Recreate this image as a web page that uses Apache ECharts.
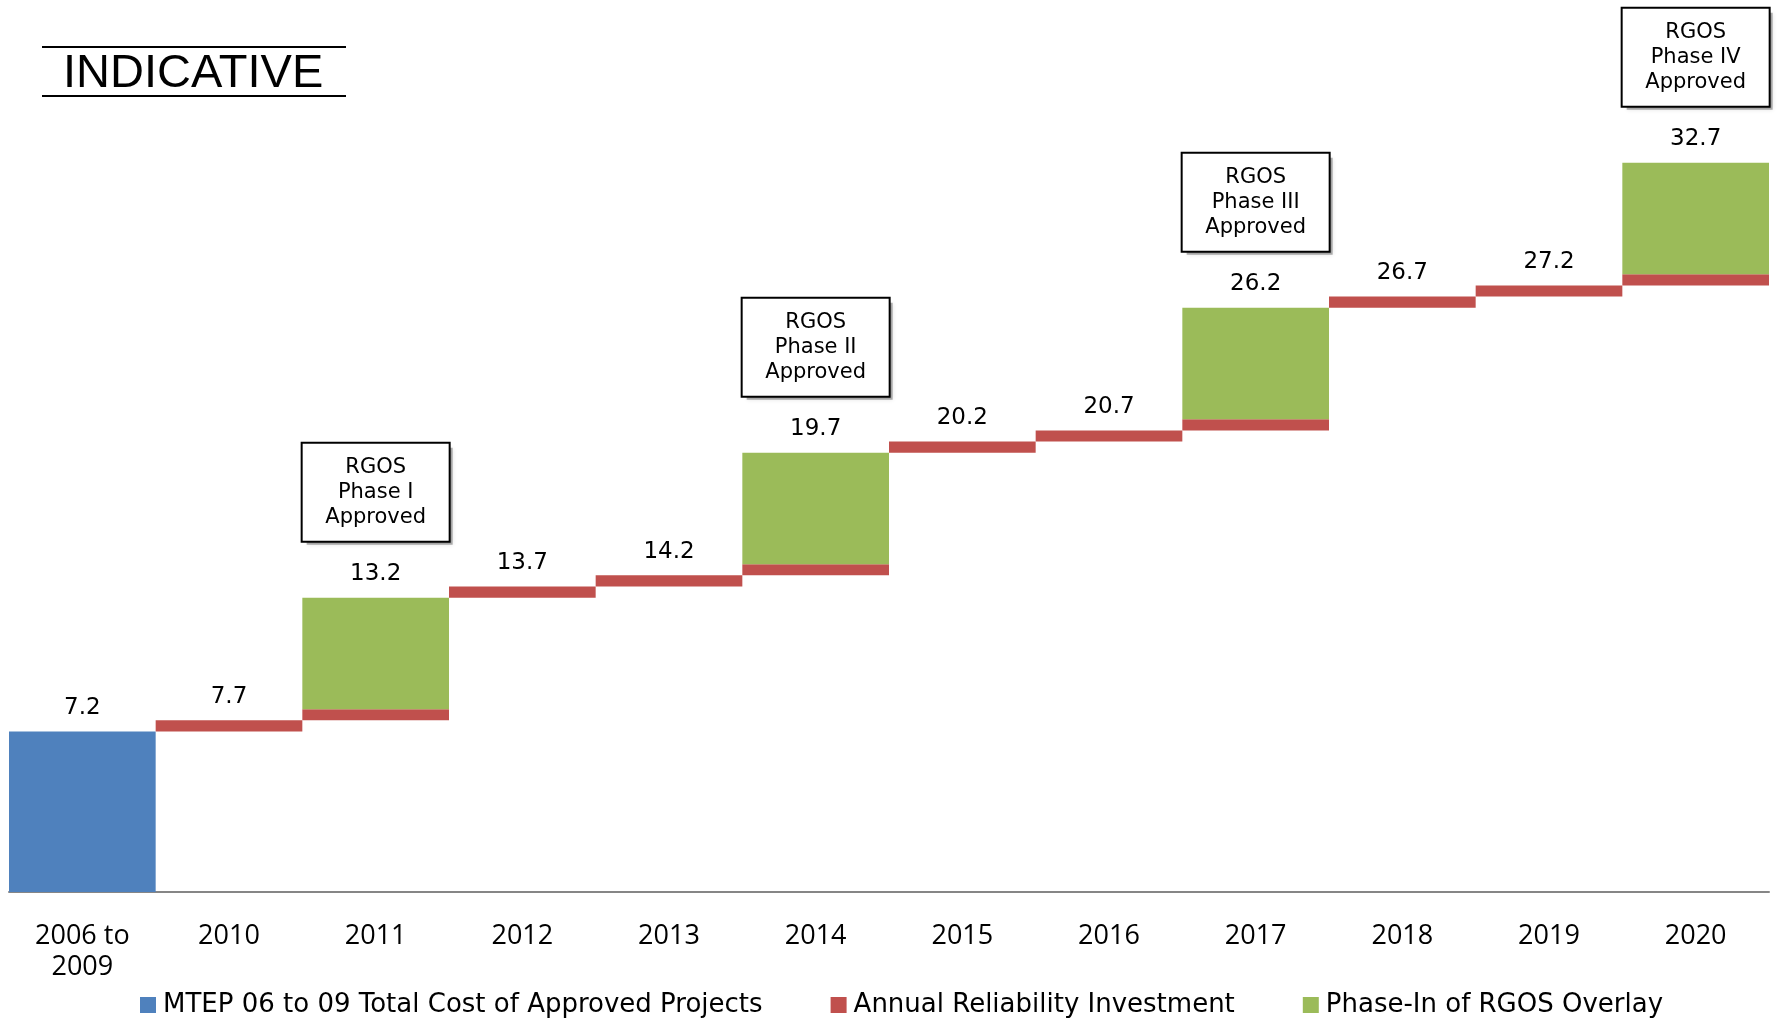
<!DOCTYPE html>
<html>
<head>
<meta charset="utf-8">
<script src="https://cdn.jsdelivr.net/npm/echarts@6/dist/echarts.min.js"></script>
<style>
html,body{margin:0;padding:0;background:#fff;}
#chart{width:1777px;height:1019px;}
</style>
</head>
<body>
<div id="chart"></div>
<script>
const categories = ['2006 to\n2009','2010','2011','2012','2013','2014','2015','2016','2017','2018','2019','2020'];
const mtepValues = [7.2, null, null, null, null, null, null, null, null, null, null, null];
const reliabilityValues = [null, 0.5, 0.5, 0.5, 0.5, 0.5, 0.5, 0.5, 0.5, 0.5, 0.5, 0.5];
const rgosValues = [null, null, 5.0, null, null, 5.0, null, null, 5.0, null, null, 5.0];
const phaseNames = [null, null, 'Phase I', null, null, 'Phase II', null, null, 'Phase III', null, null, 'Phase IV'];

const seriesNames = ['MTEP 06 to 09 Total Cost of Approved Projects','Annual Reliability Investment','Phase-In of RGOS Overlay'];
const colors = ['#4F81BD','#C0504D','#9BBB59'];

// waterfall helper values built from the data arrays
const base = [];
const totals = [];
let running = 0;
for (let i = 0; i < categories.length; i++) {
  const m = mtepValues[i] || 0, r = reliabilityValues[i] || 0, g = rgosValues[i] || 0;
  base.push(running);
  running += m + r + g;
  totals.push(Math.round(running * 10) / 10);
}
const toBar = a => a.map(v => v == null ? '-' : v);

const boxData = [];
phaseNames.forEach((p, i) => { if (p) boxData.push({value: [i, totals[i]], phase: p}); });

const FONT = '"Open Sans", sans-serif';
const WIDE = '"DejaVu Sans", sans-serif';
const boxLabel = {
  show: true, position: 'top', distance: 57,
  formatter: p => 'RGOS\n' + p.data.phase + '\nApproved',
  fontFamily: WIDE, fontSize: 21, lineHeight: 25, color: '#000', align: 'center',
  backgroundColor: '#fff', borderColor: '#000', borderWidth: 2,
  padding: [11, 19, 11, 19], width: 108
};
const chart = echarts.init(document.getElementById('chart'));
chart.setOption({
  animation: false,
  backgroundColor: '#fff',
  title: {
    text: 'INDICATIVE',
    left: 63, top: 50, padding: 0,
    textStyle: {fontFamily: '"Liberation Sans", Arial, sans-serif', fontSize: 47, fontWeight: 'normal', color: '#000', lineHeight: 48}
  },
  graphic: [
    {type: 'line', shape: {x1: 42, y1: 47, x2: 346, y2: 47}, style: {stroke: '#000', lineWidth: 2}},
    {type: 'line', shape: {x1: 42, y1: 96, x2: 346, y2: 96}, style: {stroke: '#000', lineWidth: 2}}
  ],
  legend: {
    data: seriesNames,
    left: 135, top: 987,
    itemWidth: 16, itemHeight: 16, itemGap: 68,
    icon: 'rect',
    textStyle: {fontFamily: WIDE, fontSize: 26, color: '#000', padding: [0,0,0,2]}
  },
  grid: {left: 9, right: 8, top: 0, bottom: 127, containLabel: false},
  xAxis: {
    type: 'category',
    data: categories,
    axisLine: {lineStyle: {color: '#868686', width: 2}},
    axisTick: {show: false},
    axisLabel: {fontFamily: FONT, fontSize: 27, color: '#000', lineHeight: 31, margin: 29, interval: 0}
  },
  yAxis: {
    type: 'value', min: 0, max: 40, show: false, splitLine: {show: false}
  },
  series: [
    {name: 'base', type: 'bar', stack: 'w', data: base, barCategoryGap: '0%', itemStyle: {color: 'transparent'}, emphasis: {disabled: true}, silent: true},
    {name: seriesNames[0], type: 'bar', stack: 'w', data: toBar(mtepValues), itemStyle: {color: colors[0]}},
    {name: seriesNames[1], type: 'bar', stack: 'w', data: toBar(reliabilityValues), itemStyle: {color: colors[1]}},
    {name: seriesNames[2], type: 'bar', stack: 'w', data: toBar(rgosValues), itemStyle: {color: colors[2]}},
    {
      name: 'totals', type: 'scatter', symbolSize: 0, silent: true, itemStyle: {opacity: 1},
      data: totals.map((t, i) => [i, t]),
      label: {show: true, position: 'top', distance: 12, formatter: p => p.value[1].toFixed(1),
              fontFamily: WIDE, fontSize: 23, color: '#000'}
    },
    {
      name: 'boxShadow', type: 'scatter', symbolSize: 0, silent: true, z: 3, itemStyle: {opacity: 1},
      data: boxData,
      label: Object.assign({}, boxLabel, {
        color: 'rgba(0,0,0,0)', backgroundColor: 'rgba(0,0,0,0.3)', borderColor: 'rgba(0,0,0,0)',
        offset: [4, 4], shadowColor: 'rgba(0,0,0,0.4)', shadowBlur: 5
      })
    },
    {
      name: 'boxes', type: 'scatter', symbolSize: 0, silent: true, z: 5, itemStyle: {opacity: 1},
      data: boxData,
      label: boxLabel
    }
  ]
});
</script>
</body>
</html>
